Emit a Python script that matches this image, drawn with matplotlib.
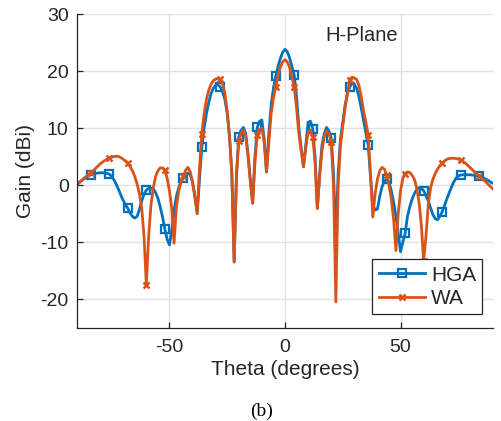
import numpy as np
import matplotlib
matplotlib.use('Agg')
import matplotlib.pyplot as plt

# theta from -90 to 90 deg, 1 deg step
theta = np.arange(-90, 91, 1)

# HGA gain (dBi)
hga = [0.2, 0.5, 0.8, 1.1, 1.4, 1.6, 1.8, 1.95, 2.05, 2.1,
       2.15, 2.15, 2.1, 2.05, 1.9, 1.5, 0.9, 0.1, -0.8, -1.8,
       -2.7, -3.5, -4.1, -4.9, -5.5, -5.8, -5.5, -4.3, -2.8, -1.6,
       -0.9, -0.6, -0.5, -0.7, -1.3, -2.3, -3.8, -5.6, -7.7, -9.5,
       -10.5, -8.0, -4.5, -2.0, -0.5, 0.6, 1.2, 1.8, 2.1, 1.8,
       0.5, -2.0, -5.0, 1.0, 6.6, 10.0, 12.5, 14.5, 16.0, 17.0,
       17.5, 17.6, 17.2, 16.3, 15.0, 12.5, 8.5, 2.0, -13.5, 2.0,
       8.4, 9.6, 10.1, 9.0, 5.5, 1.0, -3.2, 5.0, 10.1, 11.2,
       11.4, 8.0, 2.3, 9.0, 14.0, 17.0, 19.1, 20.8, 22.2, 23.3,
       23.8,
       23.4, 22.3, 20.8, 19.3, 15.5, 10.0, 6.5, 3.2, 7.0, 11.0,
       11.2, 9.9, 5.0, -4.1, 2.0, 7.0, 9.0, 10.1, 9.5, 8.3,
       2.0, -9.6, 2.0, 8.0, 11.0, 14.0, 16.0, 17.2, 17.8, 17.7,
       17.0, 15.5, 13.5, 11.3, 9.0, 7.0, 1.5, -3.5, -4.4, -4.2,
       -2.0, -0.3, 0.7, 1.0, 0.5, -1.0, -3.0, -5.5, -8.5, -11.7,
       -10.0, -8.5, -5.5, -3.8, -2.5, -1.5, -0.8, -0.5, -0.6, -1.0,
       -1.8, -2.8, -4.0, -5.2, -5.9, -6.1, -5.5, -4.7, -3.6, -2.5,
       -1.4, -0.4, 0.5, 1.2, 1.6, 1.75, 1.8, 1.8, 1.8, 1.8,
       1.75, 1.7, 1.65, 1.6, 1.4, 1.2, 1.0, 0.8, 0.5, 0.3]

# WA gain (dBi)
wa = [0.0, 0.4, 0.8, 1.2, 1.5, 1.8, 2.1, 2.5, 2.9, 3.3,
      3.7, 4.0, 4.3, 4.5, 4.7, 4.85, 5.0, 5.05, 5.0, 4.8,
      4.5, 4.2, 3.8, 3.2, 2.5, 1.5, 0.2, -1.5, -4.0, -9.0,
      -17.5, -9.0, -3.5, -0.5, 1.5, 2.5, 3.0, 3.0, 2.6, 1.2,
      -1.0, -4.0, -10.2, -4.0, -1.0, 0.5, 1.5, 2.6, 3.1, 2.3,
      0.5, -2.0, -5.0, 3.0, 9.0, 12.5, 15.0, 16.6, 17.7, 18.3,
      18.6, 18.7, 18.6, 17.8, 16.0, 13.0, 8.5, 2.0, -13.5, 1.5,
      7.8, 9.0, 9.6, 8.5, 5.0, 0.5, -3.2, 4.0, 8.8, 9.8,
      10.0, 7.5, 2.3, 7.5, 12.5, 15.2, 17.2, 19.2, 20.7, 21.6,
      22.0,
      21.6, 20.6, 19.0, 17.2, 13.5, 9.0, 6.0, 3.2, 6.5, 9.3,
      9.6, 8.5, 4.0, -4.1, 1.5, 6.0, 8.5, 9.5, 9.0, 7.6,
      0.0, -20.5, 0.0, 7.0, 10.2, 13.5, 16.0, 18.5, 18.9, 18.8,
      18.5, 17.5, 15.5, 13.0, 11.0, 8.8, 2.0, -5.6, -1.5, 1.0,
      2.5, 3.1, 2.8, 1.75, 0.0, -2.5, -6.0, -11.5, -5.0, -1.0,
      1.2, 2.0, 2.3, 2.2, 1.7, 1.0, -0.5, -3.0, -7.0, -13.3,
      -9.0, -3.5, -0.5, 1.0, 2.0, 2.8, 3.4, 3.8, 4.2, 4.5,
      4.65, 4.7, 4.7, 4.65, 4.55, 4.4, 4.15, 3.85, 3.5, 3.1,
      2.7, 2.3, 1.95, 1.6, 1.2, 0.85, 0.5, 0.1, -0.3, -0.7]

x_ticks = [-50, 0, 50]
y_ticks = [-20, -10, 0, 10, 20, 30]

plt.rcParams['font.family'] = ['Liberation Sans', 'DejaVu Sans']
plt.rcParams['axes.unicode_minus'] = False

fig = plt.figure(figsize=(5.01, 4.21), dpi=100)
ax = fig.add_axes([0.1537, 0.222, 0.8303, 0.7447])

axis_col = (0.15, 0.15, 0.15)
ax.plot(theta, hga, color='#0072BD', lw=2, marker='s', ms=5.8, mfc='none',
        mew=1.6, markevery=(6, 8), label='HGA')
ax.plot(theta, wa, color='#D95319', lw=2, marker='x', ms=5,
        mew=1.8, markevery=(6, 8), label='WA')

ax.set_xlim(-90, 90)
ax.set_ylim(-25, 30)
ax.set_xticks(x_ticks)
ax.set_yticks(y_ticks)
ax.grid(True, color=(0.88, 0.88, 0.88), lw=1)
ax.set_axisbelow(True)

for s in ['top', 'right']:
    ax.spines[s].set_visible(False)
for s in ['left', 'bottom']:
    ax.spines[s].set_color(axis_col)
    ax.spines[s].set_linewidth(0.9)

ax.tick_params(axis='both', direction='in', length=4, width=0.9,
               colors=axis_col, labelsize=14)
ax.tick_params(axis='x', pad=8)
ax.tick_params(axis='y', pad=6)

ax.set_xlabel('Theta (degrees)', fontsize=15, color=axis_col, labelpad=3)
ax.set_ylabel('Gain (dBi)', fontsize=15, color=axis_col, labelpad=4)

ax.text(17.3, 25.3, 'H-Plane', fontsize=14.5, color=axis_col,
        ha='left', va='baseline')

leg = ax.legend(loc='lower right', bbox_to_anchor=(0.974, 0.043),
                borderaxespad=0, fontsize=15, fancybox=False,
                handlelength=2.2, handletextpad=0.3, borderpad=0.3,
                labelspacing=0.2, framealpha=1)
leg.get_frame().set_edgecolor(axis_col)
leg.get_frame().set_linewidth(0.9)
for t in leg.get_texts():
    t.set_color(axis_col)

fig.text(0.523, 0.024, '(b)', fontsize=14, family='Liberation Serif',
         ha='center', va='center')

fig.savefig('out.png', dpi=100)
